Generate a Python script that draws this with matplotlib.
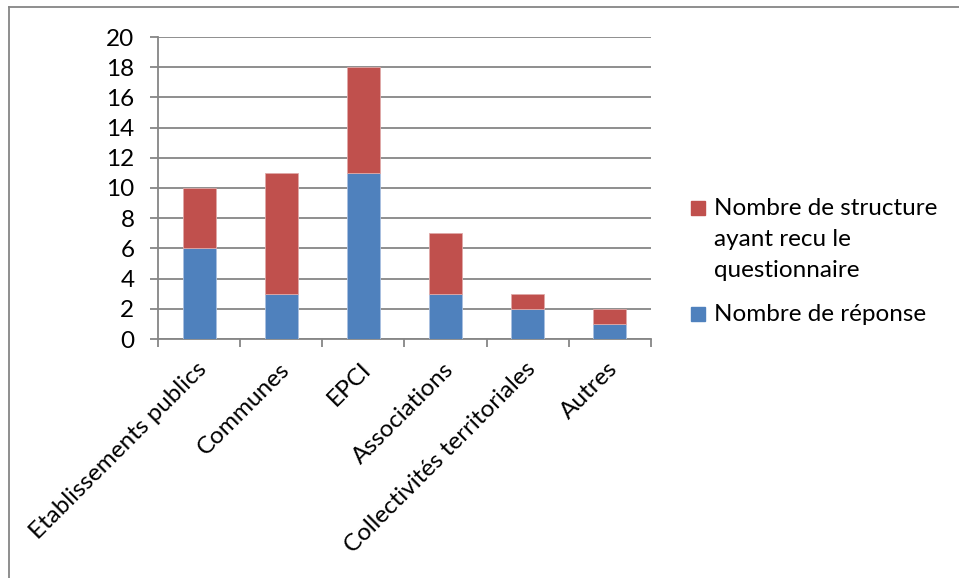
import matplotlib
matplotlib.use("Agg")
import matplotlib.pyplot as plt
from matplotlib.patches import Rectangle
from matplotlib.lines import Line2D
import numpy as np

# Data
categories = ["Etablissements publics", "Communes", "EPCI", "Associations",
              "Collectivités territoriales", "Autres"]
reponses = [6, 3, 11, 3, 2, 1]
non_reponses = [4, 8, 7, 4, 1, 1]
series_names = ["Nombre de structure\nayant recu le\nquestionnaire",
                "Nombre de réponse"]
yticks = [0, 2, 4, 6, 8, 10, 12, 14, 16, 18, 20]

blue = "#4F81BD"
red = "#C0504D"
grid_col = "#868686"
fs = 17.5

plt.rcParams["font.family"] = ["Lato", "DejaVu Sans"]

W, H = 959, 578
fig = plt.figure(figsize=(W / 100, H / 100), dpi=100)
ax = fig.add_axes([158 / W, 1 - 339 / H, (651 - 158) / W, (339 - 37) / H])

x = np.arange(len(categories))
ax.bar(x, reponses, width=0.4, color=blue, edgecolor="#a9c0e0", linewidth=0.6, zorder=3)
ax.bar(x, non_reponses, bottom=reponses, width=0.4, color=red,
       edgecolor="#e0a9a8", linewidth=0.6, zorder=3)

ax.set_xlim(-0.5, len(categories) - 0.5)
ax.set_ylim(0, 20)
ax.set_yticks(yticks)
ax.set_yticklabels([str(v) for v in yticks], fontsize=fs)
ax.yaxis.grid(True, color=grid_col, linewidth=1.3, zorder=0)
ax.set_axisbelow(True)

# category ticks between bars
ax.set_xticks(np.arange(-0.5, len(categories), 1.0), minor=False)
ax.set_xticklabels([])
ax.tick_params(axis="x", direction="out", length=6, width=1.3, color=grid_col)
ax.tick_params(axis="y", direction="out", length=6, width=1.3, color=grid_col, pad=11)
for i, name in enumerate(categories):
    ax.annotate(name, xy=(i, 0), xycoords="data", xytext=(-2, -14),
                textcoords="offset points", rotation=45, rotation_mode="anchor",
                ha="right", va="top", fontsize=fs)

for s in ["top", "right"]:
    ax.spines[s].set_visible(False)
ax.spines["left"].set_color(grid_col)
ax.spines["bottom"].set_color(grid_col)
ax.spines["left"].set_linewidth(1.3)
ax.spines["bottom"].set_linewidth(1.3)

# legend
legend_items = [(series_names[0], red, 208), (series_names[1], blue, 314)]
for label, col, ypx in legend_items:
    fig.patches.append(Rectangle((691 / W, 1 - (ypx + 7) / H), 14 / W, 14 / H,
                                 transform=fig.transFigure, color=col))
    fig.text(714 / W, 1 - (ypx - 10) / H, label, fontsize=fs, va="top",
             ha="left", linespacing=1.6)

# outer frame
fig.add_artist(Line2D([9 / W, 9 / W], [0, 1 - 7 / H], transform=fig.transFigure,
                      color=grid_col, linewidth=1.3))
fig.add_artist(Line2D([9 / W, 1], [1 - 7 / H, 1 - 7 / H], transform=fig.transFigure,
                      color=grid_col, linewidth=1.3))

fig.savefig("out.png", dpi=100)
